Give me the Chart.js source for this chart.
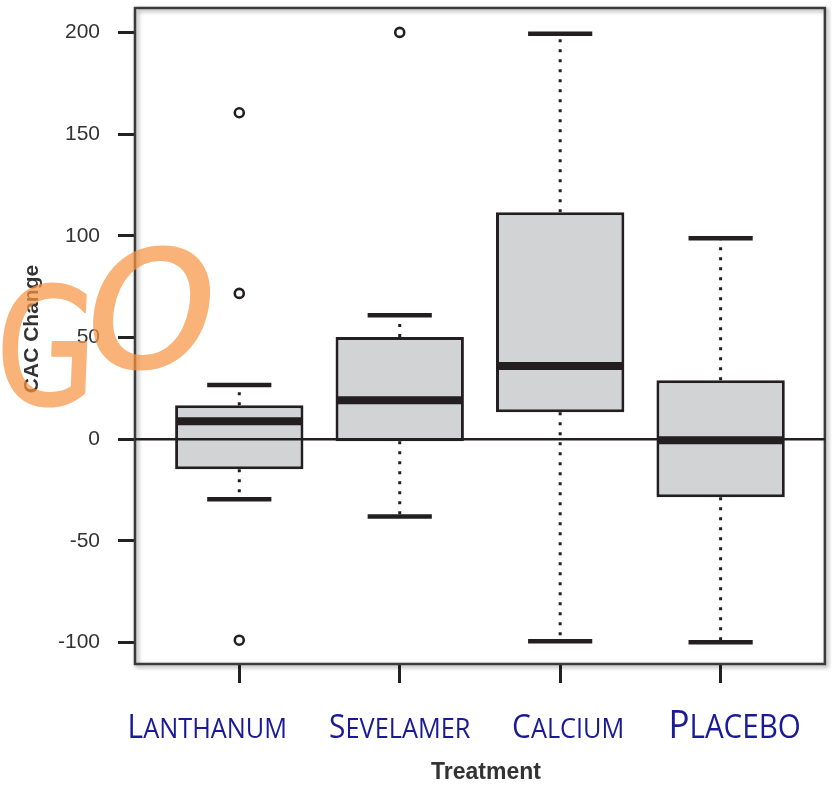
<!DOCTYPE html>
<html>
<head>
<meta charset="utf-8">
<title>CAC Change by Treatment</title>
<script src="https://cdn.jsdelivr.net/npm/chart.js@4.4.1/dist/chart.umd.min.js"></script>
<style>
  html, body { margin: 0; padding: 0; background: #fff; }
  #wrap { width: 832px; height: 788px; }
</style>
</head>
<body>
<div id="wrap"><canvas id="chart" width="832" height="788"></canvas></div>
<script>
// values
const treatments = ["Lanthanum", "Sevelamer", "Calcium", "Placebo"];
const whiskerLow = [-29.5, -38, -99.3, -99.8];
const q1 = [-14.7, -1, 13.3, -28.5];
const medians = [8.8, 19.2, 36, -0.5];
const q3 = [16.7, 50.2, 111.6, 29];
const whiskerHigh = [26.7, 61, 199.3, 98.8];
const outliers = [[160.5, 71.7, -98.8], [200], [], []];
const yTicks = [-100, -50, 0, 50, 100, 150, 200];
const yRange = [-110.5, 212];
const xRange = [0.35, 4.65];

// layout bits
const BOX_HALF = 0.39, CAP_HALF = 0.2;
const labelNudge = [-32, 0, 8, 14];
const labelScale = [1, 1, 1, 1.17];
const INK = "#231f20";

const pos = treatments.map((_, i) => i + 1);
const seg = (a, b) => [a, b, { x: a.x, y: null }];

const boxData = pos.map((x, i) => ({ x: x, y: [q1[i], q3[i]] }));
const medianData = pos.flatMap((x, i) =>
  seg({ x: x - BOX_HALF, y: medians[i] }, { x: x + BOX_HALF, y: medians[i] }));
const whiskerData = pos.flatMap((x, i) => [
  ...seg({ x: x, y: q3[i] }, { x: x, y: whiskerHigh[i] }),
  ...seg({ x: x, y: q1[i] }, { x: x, y: whiskerLow[i] })
]);
const capData = pos.flatMap((x, i) => [
  ...seg({ x: x - CAP_HALF, y: whiskerHigh[i] }, { x: x + CAP_HALF, y: whiskerHigh[i] }),
  ...seg({ x: x - CAP_HALF, y: whiskerLow[i] }, { x: x + CAP_HALF, y: whiskerLow[i] })
]);
const outlierData = pos.flatMap((x, i) => outliers[i].map(y => ({ x: x, y: y })));
const zeroData = [{ x: xRange[0], y: 0 }, { x: xRange[1], y: 0 }];

function smallCaps(ctx, word, cx, base, big, small) {
  const first = word[0].toUpperCase();
  const rest = word.slice(1).toUpperCase();
  const bigFont = big + 'px "Open Sans"';
  const smallFont = small + 'px "Open Sans"';
  ctx.font = bigFont;
  const w1 = ctx.measureText(first).width;
  ctx.font = smallFont;
  const w2 = ctx.measureText(rest).width;
  ctx.save();
  ctx.translate(cx, base);
  ctx.scale(0.92, 1);
  const x0 = -(w1 + w2) / 2;
  ctx.textAlign = "left";
  ctx.textBaseline = "alphabetic";
  ctx.font = bigFont;
  ctx.fillText(first, x0, 0);
  ctx.font = smallFont;
  ctx.fillText(rest, x0 + w1, 0);
  ctx.restore();
}

// the orange "GO" scribble, drawn opaque on its own layer then laid on at partial alpha
function drawGo(ctx, w, h) {
  const off = document.createElement("canvas");
  off.width = w;
  off.height = h;
  const g = off.getContext("2d");
  g.fillStyle = g.strokeStyle = "rgb(247,150,70)";
  g.lineWidth = 2.5;
  g.lineJoin = "round";
  g.textBaseline = "alphabetic";
  g.font = '162px "DejaVu Sans"';
  g.save();
  g.translate(-6, 404);
  g.transform(0.8, 0, -0.04, 1, 0, 0);
  g.fillText("G", 0, 0);
  g.strokeText("G", 0, 0);
  g.restore();
  g.save();
  g.translate(76, 367);
  g.transform(1.02, 0, -0.18, 1, 0, 0);
  g.fillText("O", 0, 0);
  g.strokeText("O", 0, 0);
  g.restore();
  ctx.save();
  ctx.globalAlpha = 0.72;
  ctx.drawImage(off, 0, 0);
  ctx.restore();
}

const decor = {
  id: "decor",
  beforeDatasetsDraw(chart) {
    const { ctx, chartArea: a } = chart;
    ctx.save();
    ctx.shadowColor = "rgba(0,0,0,0.4)";
    ctx.shadowBlur = 4;
    ctx.shadowOffsetX = 2;
    ctx.shadowOffsetY = 2;
    ctx.strokeStyle = "#3a3a3a";
    ctx.lineWidth = 2.5;
    ctx.strokeRect(a.left, a.top, a.right - a.left, a.bottom - a.top);
    ctx.restore();
  },
  afterDraw(chart) {
    const { ctx } = chart;
    const xs = chart.scales.x;
    ctx.save();

    // axis titles
    ctx.fillStyle = "#333";
    ctx.textAlign = "center";
    ctx.textBaseline = "middle";
    ctx.font = 'bold 23px "Liberation Sans"';
    ctx.fillText("Treatment", 486, 773);
    ctx.save();
    ctx.translate(32, 329);
    ctx.rotate(-Math.PI / 2);
    ctx.font = 'bold 21px "Liberation Sans"';
    ctx.fillText("CAC Change", 0, 0);
    ctx.restore();

    // category labels in small caps
    ctx.fillStyle = "#1a1a96";
    treatments.forEach((t, i) => {
      const cx = xs.getPixelForValue(pos[i]) + labelNudge[i];
      const k = labelScale[i];
      smallCaps(ctx, t, cx, 738, 32.5 * k, 27.5 * k);
    });
    ctx.restore();

    drawGo(ctx, chart.width, chart.height);
  }
};

new Chart(document.getElementById("chart"), {
  type: "bar",
  data: {
    datasets: [
      {
        type: "scatter",
        data: outlierData,
        pointRadius: 4.5,
        pointBorderWidth: 2.6,
        pointBorderColor: INK,
        pointBackgroundColor: "#fff",
        order: 0
      },
      {
        type: "line",
        data: capData,
        borderColor: INK,
        borderWidth: 4.5,
        pointRadius: 0,
        spanGaps: false,
        order: 1
      },
      {
        type: "line",
        data: medianData,
        borderColor: INK,
        borderWidth: 8,
        pointRadius: 0,
        spanGaps: false,
        order: 2
      },
      {
        type: "line",
        data: zeroData,
        borderColor: INK,
        borderWidth: 2.5,
        pointRadius: 0,
        order: 3
      },
      {
        type: "bar",
        data: boxData,
        backgroundColor: "#d1d3d4",
        borderColor: INK,
        borderWidth: 3,
        borderSkipped: false,
        barPercentage: 0.8,
        categoryPercentage: 1,
        order: 4
      },
      {
        type: "line",
        data: whiskerData,
        borderColor: INK,
        borderWidth: 3,
        borderDash: [3, 7],
        pointRadius: 0,
        spanGaps: false,
        order: 5
      }
    ]
  },
  options: {
    responsive: false,
    animation: false,
    layout: { padding: { top: 8, right: 6, left: 0, bottom: 0 } },
    plugins: { legend: { display: false }, tooltip: { enabled: false } },
    scales: {
      x: {
        type: "linear",
        min: xRange[0],
        max: xRange[1],
        offset: false,
        border: { display: false },
        grid: { offset: false, drawOnChartArea: false, tickLength: 19, tickColor: "#222", tickWidth: 3 },
        ticks: { callback: () => "", font: { size: 10 } },
        afterBuildTicks: s => { s.ticks = pos.map(v => ({ value: v })); },
        afterFit: s => { s.height = 124; s.paddingLeft = 0; s.paddingRight = 0; }
      },
      y: {
        min: yRange[0],
        max: yRange[1],
        border: { display: false },
        grid: { drawOnChartArea: false, tickLength: 17, tickColor: "#222", tickWidth: 3 },
        ticks: { color: "#333", padding: 18, font: { family: '"Liberation Sans"', size: 21 } },
        afterBuildTicks: s => { s.ticks = yTicks.map(v => ({ value: v })); },
        afterFit: s => { s.width = 135; s.paddingTop = 0; s.paddingBottom = 0; }
      }
    }
  },
  plugins: [decor]
});
</script>
</body>
</html>
